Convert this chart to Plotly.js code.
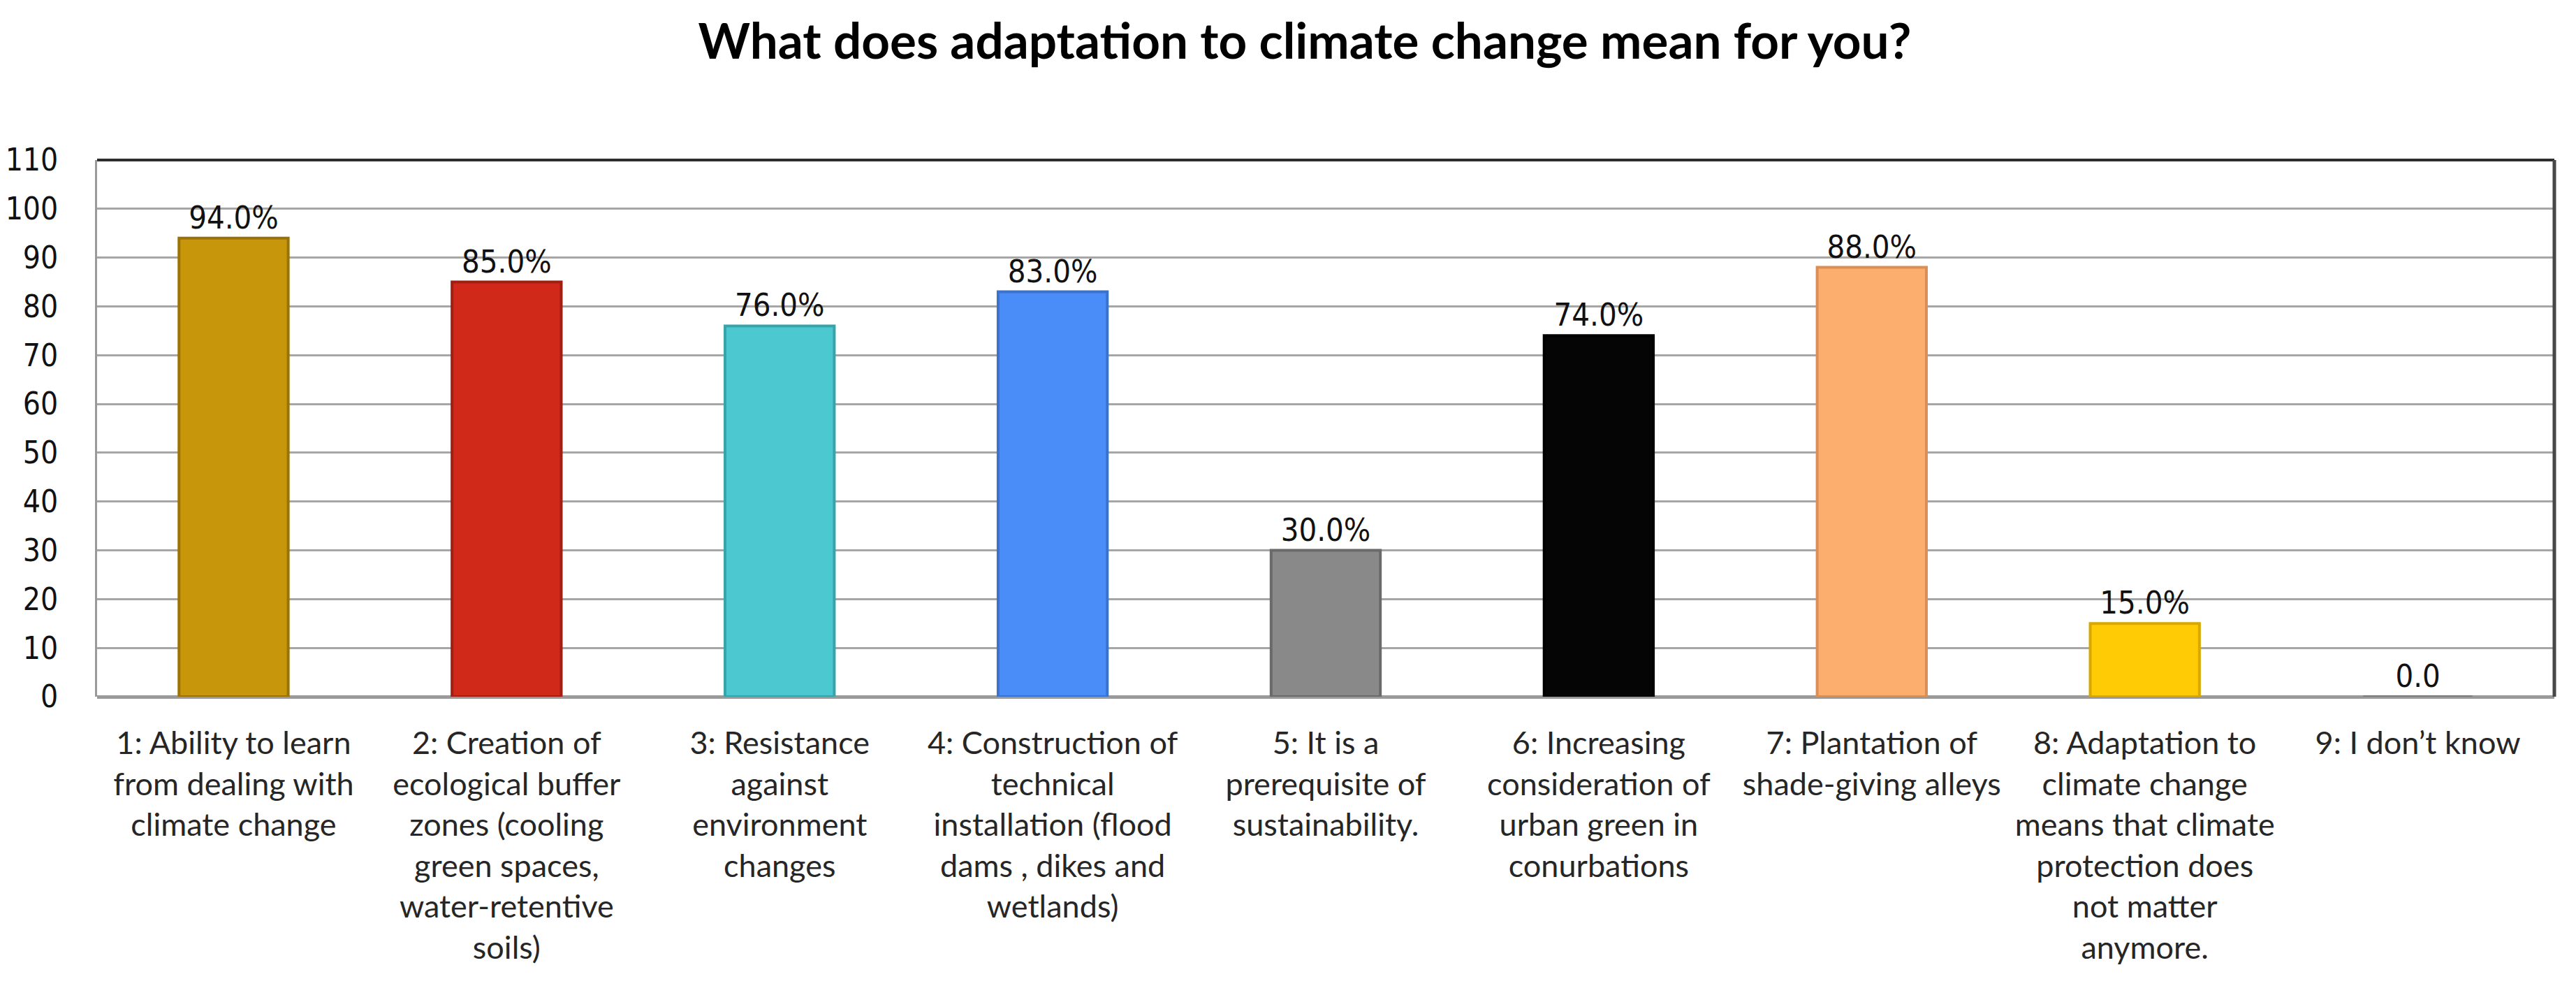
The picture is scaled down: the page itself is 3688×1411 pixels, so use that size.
<!DOCTYPE html>
<html>
<head>
<meta charset="utf-8">
<script src="https://cdn.plot.ly/plotly-3.0.1.min.js"></script>
<style>
  html, body { margin: 0; padding: 0; background: #ffffff; }
  #chart { width: 3688px; height: 1411px; }
</style>
</head>
<body>
<div id="chart"></div>
<script>
// ---- Data ----
const categories = [
  "1: Ability to learn<br>from dealing with<br>climate change",
  "2: Creation of<br>ecological buffer<br>zones (cooling<br>green spaces,<br>water-retentive<br>soils)",
  "3: Resistance<br>against<br>environment<br>changes",
  "4: Construction of<br>technical<br>installation (flood<br>dams , dikes and<br>wetlands)",
  "5: It is a<br>prerequisite of<br>sustainability.",
  "6: Increasing<br>consideration of<br>urban green in<br>conurbations",
  "7: Plantation of<br>shade-giving alleys",
  "8: Adaptation to<br>climate change<br>means that climate<br>protection does<br>not matter<br>anymore.",
  "9: I don\u2019t know"
];
const values = [94, 85, 76, 83, 30, 74, 88, 15, 0];
const valueLabels = ["94.0%", "85.0%", "76.0%", "83.0%", "30.0%", "74.0%", "88.0%", "15.0%", "0.0"];
const barColors = ["#C8960A", "#D0291A", "#4CC8D0", "#4A8DF8", "#898989", "#050505", "#FBAE6E", "#FFCB05", "#9A9A9A"];
const barEdges  = ["#9A7206", "#A11E12", "#37A3AA", "#3A72CC", "#6A6A6A", "#000000", "#D98F55", "#D9A800", "#7A7A7A"];
const yTicks = [0, 10, 20, 30, 40, 50, 60, 70, 80, 90, 100, 110];
const chartTitle = "What does adaptation to climate change mean for you?";

const labelFont = "'DejaVu Sans Condensed', 'Liberation Sans', 'DejaVu Sans', sans-serif";
const catFont = "Lato, 'Open Sans', sans-serif";

const trace = {
  type: "bar",
  x: categories,
  y: values,
  text: valueLabels,
  texttemplate: "%{text}",
  textposition: "outside",
  constraintext: "none",
  cliponaxis: false,
  textfont: { family: labelFont, size: 45, color: "#111111" },
  width: 0.40,
  marker: {
    color: barColors,
    line: { color: barEdges, width: 4 }
  },
  hoverinfo: "skip"
};

const layout = {
  width: 3688,
  height: 1411,
  paper_bgcolor: "#ffffff",
  plot_bgcolor: "#ffffff",
  margin: { l: 139, r: 31, t: 229, b: 414, pad: 0 },
  showlegend: false,
  title: {
    text: "<b>" + chartTitle + "</b>",
    font: { family: catFont, size: 71, color: "#000000" },
    x: 0.5065, xanchor: "center", xref: "container",
    y: 0.958, yanchor: "middle", yref: "container"
  },
  xaxis: {
    type: "category",
    showgrid: false,
    zeroline: false,
    showline: false,
    ticks: "",
    tickangle: 0,
    ticklabelstandoff: 36,
    tickfont: { family: catFont, size: 45, color: "#262626" }
  },
  yaxis: {
    range: [0, 110],
    tickvals: yTicks,
    ticktext: yTicks.map(String),
    showgrid: true,
    gridcolor: "#A6A6A6",
    gridwidth: 3,
    zeroline: true,
    zerolinecolor: "#9A9A9A",
    zerolinewidth: 5,
    showline: true,
    linecolor: "#9A9A9A",
    linewidth: 3,
    ticks: "",
    ticklabelstandoff: 44,
    tickfont: { family: labelFont, size: 44, color: "#111111" }
  },
  shapes: [
    { type: "line", xref: "paper", yref: "paper", x0: 0, x1: 1, y0: 1, y1: 1,
      line: { color: "#2E2E2E", width: 4 } },
    { type: "line", xref: "paper", yref: "paper", x0: 1, x1: 1, y0: 0, y1: 1,
      line: { color: "#474747", width: 5 } }
  ]
};

Plotly.newPlot("chart", [trace], layout, { displayModeBar: false, staticPlot: true });
</script>
</body>
</html>
